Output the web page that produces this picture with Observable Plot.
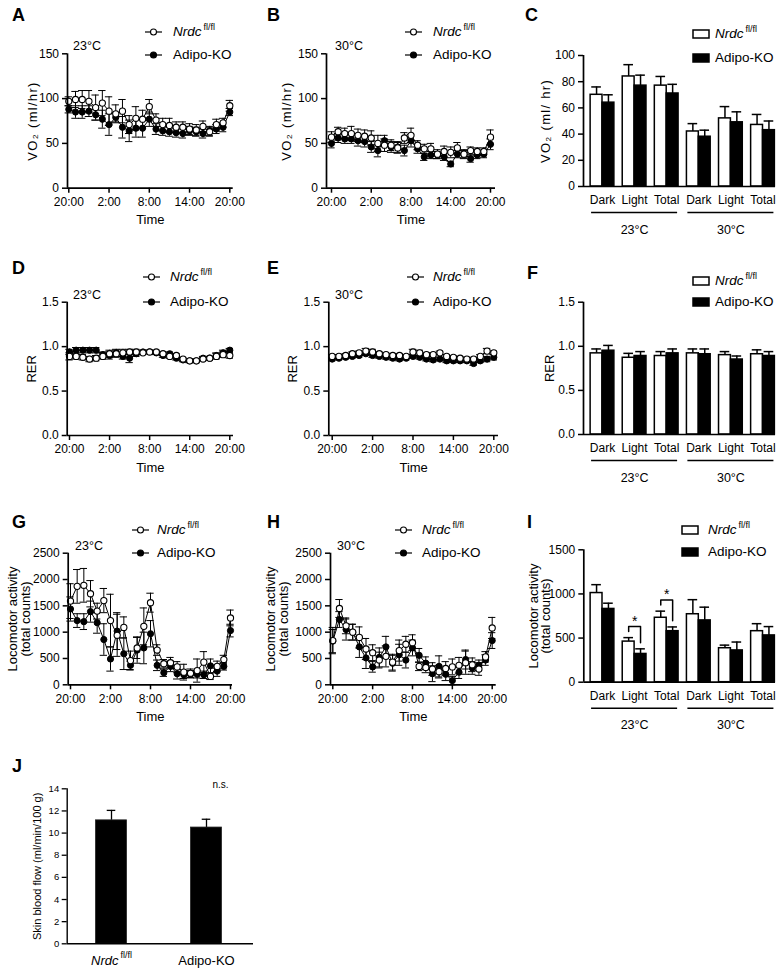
<!DOCTYPE html>
<html><head><meta charset="utf-8">
<script src="https://cdn.jsdelivr.net/npm/d3@7"></script>
<script src="https://cdn.jsdelivr.net/npm/@observablehq/plot@0.6"></script>
<style>
body{margin:0;background:#fff;}
#fig{position:relative;width:784px;height:969px;font-family:"Liberation Sans",Arial,Helvetica,sans-serif;color:#000;overflow:hidden;background:#fff;}
#fig > svg{position:absolute;}
.t{position:absolute;white-space:nowrap;}
.letter{font-weight:bold;font-size:18px;line-height:18px;}
.sup{font-size:9px;position:relative;top:-6px;margin-left:2px;font-style:normal;}
</style></head>
<body><div id="fig"></div>
<script>
// ---------------- data ----------------
const hours = [0,1,2,3,4,5,6,7,8,9,10,11,12,13,14,15,16,17,18,19,20,21,22,23,24];
const timeTickHours = [0,6,12,18,24];
const timeTickLabels = ["20:00","2:00","8:00","14:00","20:00"];
const groups = ["Nrdc fl/fl","Adipo-KO"];
const barCategories = ["Dark","Light","Total","Dark","Light","Total"];
const temperatures = ["23°C","30°C"];

// A: VO2 23°C
const vo2_23_flox = [97,99,99,97,90,95,86,83,86,71,78,77,91,76,71,70,68,68,66,65,69,63,71,73,92];
const vo2_23_flox_se = [5,9,10,12,14,14,16,10,13,10,13,10,8,7,7,8,6,6,6,6,6,5,6,5,6];
const vo2_23_ko = [88,85,85,86,82,77,71,79,68,64,67,67,77,66,64,63,62,61,64,63,61,64,66,68,85];
const vo2_23_ko_se = [4,7,7,6,6,10,12,5,12,12,10,10,8,6,5,5,5,5,5,5,5,5,5,5,4];
// B: VO2 30°C
const vo2_30_flox = [57,63,61,61,59,58,56,50,48,48,45,56,59,48,44,44,38,41,40,45,38,42,41,41,57];
const vo2_30_flox_se = [6,5,6,8,7,7,8,9,7,6,6,6,8,5,5,6,5,6,6,6,5,4,4,4,8];
const vo2_30_ko = [50,56,55,55,53,52,46,42,53,46,46,42,53,44,35,37,37,35,27,38,38,33,37,38,49];
const vo2_30_ko_se = [5,5,5,5,6,6,6,7,6,6,6,6,7,5,4,4,4,4,3,4,4,4,4,4,6];
// C: VO2 bars
const vo2Bar_flox = [70,84,77,42,52,47];
const vo2Bar_flox_se = [6,9,7,6,9,8];
const vo2Bar_ko = [64,77,71,38,49,43];
const vo2Bar_ko_se = [6,8,7,5,8,7];
// D: RER 23°C
const rer_23_flox = [.89,.89,.88,.86,.87,.89,.92,.92,.93,.94,.94,.93,.94,.94,.92,.89,.90,.86,.84,.84,.86,.87,.89,.91,.90];
const rer_23_flox_se = [.04,.03,.03,.03,.03,.03,.04,.04,.04,.03,.03,.02,.02,.02,.02,.02,.02,.02,.02,.02,.02,.02,.03,.03,.03];
const rer_23_ko = [.94,.96,.96,.96,.96,.91,.90,.93,.89,.87,.92,.94,.94,.93,.90,.92,.87,.85,.84,.84,.87,.87,.90,.93,.96];
const rer_23_ko_se = [.03,.03,.03,.03,.03,.03,.04,.04,.03,.05,.03,.02,.02,.02,.02,.02,.02,.02,.02,.02,.02,.02,.03,.03,.02];
// E: RER 30°C
const rer_30_flox = [.89,.89,.90,.92,.93,.95,.94,.92,.91,.90,.90,.89,.94,.93,.91,.91,.93,.89,.88,.87,.86,.86,.89,.95,.93];
const rer_30_flox_se = [.02,.02,.02,.02,.02,.03,.03,.02,.02,.02,.02,.02,.03,.03,.02,.02,.02,.02,.02,.02,.02,.02,.02,.03,.02];
const rer_30_ko = [.86,.87,.88,.89,.90,.92,.90,.89,.88,.87,.86,.87,.89,.88,.86,.85,.86,.84,.84,.84,.84,.81,.84,.86,.88];
const rer_30_ko_se = [.02,.02,.02,.02,.02,.02,.02,.02,.02,.02,.02,.02,.02,.02,.02,.02,.02,.02,.02,.02,.02,.02,.02,.03,.03];
// F: RER bars
const rerBar_flox = [0.92,0.87,0.89,0.92,0.90,0.91];
const rerBar_flox_se = [0.05,0.05,0.05,0.05,0.04,0.05];
const rerBar_ko = [0.95,0.89,0.92,0.91,0.85,0.89];
const rerBar_ko_se = [0.06,0.05,0.05,0.06,0.04,0.05];
// G: locomotor 23°C
const loco_23_flox = [1590,1870,1890,1730,1400,1600,1220,940,1090,460,700,1110,1560,660,400,420,340,240,220,270,430,160,350,480,1270];
const loco_23_flox_se = [330,320,320,250,150,230,500,400,200,180,200,350,180,100,80,100,100,150,80,220,200,60,100,80,150];
const loco_23_ko = [1440,1220,1200,1390,1180,860,490,1020,590,370,660,700,970,370,230,350,210,190,200,200,190,360,260,350,1030];
const loco_23_ko_se = [230,130,150,200,200,300,230,350,300,80,250,300,250,100,70,100,100,70,70,70,70,130,100,70,120];
// H: locomotor 30°C
const loco_30_flox = [840,1450,1120,1000,900,680,610,470,540,430,650,770,800,350,330,300,250,310,340,370,420,380,300,530,1080];
const loco_30_flox_se = [250,170,150,150,200,200,150,150,200,150,200,150,150,80,100,120,120,130,150,150,220,130,120,100,200];
const loco_30_ko = [830,1240,1050,1000,720,510,340,520,720,410,570,470,700,560,410,210,350,200,80,240,480,320,370,470,840];
const loco_30_ko_se = [220,150,200,150,200,200,100,180,200,150,200,150,150,130,120,150,200,120,80,120,180,120,100,100,150];
// I: locomotor bars
const locoBar_flox = [1010,460,730,770,385,578];
const locoBar_flox_se = [95,45,75,165,35,85];
const locoBar_ko = [830,320,578,700,360,530];
const locoBar_ko_se = [65,58,48,150,95,100];
const locoSignificant = [1,2]; // category indices marked "*"
// J: skin blood flow
const skinFlow = [11.15,10.5];
const skinFlow_se = [0.9,0.75];
const skinSignificance = "n.s.";

// ---------------- helpers ----------------
const fig = document.getElementById("fig");
const FONT = '"Liberation Sans", Arial, Helvetica, sans-serif';
const NS = "http://www.w3.org/2000/svg";
const baseStyle = (fs) => ({fontFamily: FONT, fontSize: fs + "px", background: "transparent", overflow: "visible", color: "black"});
const numFmt = d => `${d}`;

function margins(box, frame) {
  const [bx, by, bw, bh] = box; const [x0, x1, y0, y1] = frame;
  return {width: bw, height: bh, marginLeft: x0 - bx, marginRight: bx + bw - x1, marginTop: y0 - by, marginBottom: by + bh - y1};
}
function mount(svg, box) {
  svg.style.position = "absolute"; svg.style.left = box[0] + "px"; svg.style.top = box[1] + "px";
  svg.style.maxWidth = "none";
  svg.querySelectorAll("text").forEach(t => {
    if (t.textContent.startsWith("VO")) t.setAttribute("letter-spacing", "1.3");
  });
  fig.appendChild(svg);
}
function groupHTML(name) {
  if (name.endsWith(" fl/fl")) return '<i>' + name.replace(" fl/fl", "") + '</i><span class="sup">fl/fl</span>';
  return name;
}
function text(html, x, yc, size, extra) {
  const d = document.createElement("div");
  d.className = "t"; d.innerHTML = html;
  d.style.left = x + "px"; d.style.top = (yc - size * 0.75) + "px";
  d.style.fontSize = size + "px"; d.style.lineHeight = (size * 1.5) + "px";
  if (extra) Object.assign(d.style, extra);
  fig.appendChild(d); return d;
}
function letter(ch, x, yc) {
  const d = document.createElement("div"); d.className = "t letter"; d.textContent = ch;
  d.style.left = x + "px"; d.style.top = (yc - 9) + "px"; fig.appendChild(d);
}
function legendLines(symX, txtX, ys) {
  groups.forEach((g, i) => {
    const s = document.createElementNS(NS, "svg");
    s.setAttribute("width", 20); s.setAttribute("height", 10);
    s.style.position = "absolute"; s.style.left = symX + "px"; s.style.top = (ys[i] - 5) + "px";
    s.innerHTML = `<line x1="0" x2="17" y1="5" y2="5" stroke="black" stroke-width="1.2"/><circle cx="8.5" cy="5" r="3" fill="${i === 0 ? "white" : "black"}" stroke="black" stroke-width="1.1"/>`;
    fig.appendChild(s);
    text(groupHTML(g), txtX, ys[i], 13.5);
  });
}
function legendBoxes(symX, txtX, ys) {
  groups.forEach((g, i) => {
    const s = document.createElementNS(NS, "svg");
    s.setAttribute("width", 19); s.setAttribute("height", 12);
    s.style.position = "absolute"; s.style.left = symX + "px"; s.style.top = (ys[i] - 6) + "px";
    s.innerHTML = `<rect x="1" y="2" width="16" height="8" fill="${i === 0 ? "white" : "black"}" stroke="black" stroke-width="1.5"/>`;
    fig.appendChild(s);
    text(groupHTML(g), txtX, ys[i], 13.5);
  });
}

function axes(xDomain, yDomain, o) {
  return [
    Plot.ruleX([xDomain[0]], {strokeWidth: 1.7}),
    Plot.ruleY([yDomain[0]], {strokeWidth: 1.7}),
    Plot.axisY({ticks: o.yTicks, tickFormat: o.yFormat, tickSize: o.yTickSize ?? 5, tickPadding: 3.5, strokeWidth: 1.5, label: null}),
    Plot.axisX({ticks: o.xTicks, tickFormat: o.xFormat, tickSize: o.xTickSize ?? 5, tickPadding: o.xTickPadding ?? 4.3, strokeWidth: 1.5, label: null})
  ];
}
function yLabel(label, offset, size) {
  return Plot.text([label], {text: d => d, frameAnchor: "left", textAnchor: "middle", lineAnchor: "middle", rotate: -90, dx: -offset, fontSize: size ?? 13, lineHeight: 0.98});
}

function timePanel(p) {
  const m = margins(p.box, p.frame);
  const pxPerH = (p.h24 - p.h0) / 24;
  const xDomain = [(p.frame[0] - p.h0) / pxPerH, (p.frame[1] - p.h0) / pxPerH];
  const flox = hours.map((h, i) => ({h, v: p.flox[i], e: p.floxSe[i]}));
  const ko = hours.map((h, i) => ({h, v: p.ko[i], e: p.koSe[i]}));
  const cap = 0.55;
  const err = (data) => [
    Plot.ruleX(data, {x: "h", y1: d => d.v - d.e, y2: d => d.v + d.e, strokeWidth: 1}),
    Plot.ruleY(data, {y: d => d.v + d.e, x1: d => d.h - cap, x2: d => d.h + cap, strokeWidth: 1}),
    Plot.ruleY(data, {y: d => d.v - d.e, x1: d => d.h - cap, x2: d => d.h + cap, strokeWidth: 1})
  ];
  const svg = Plot.plot({
    ...m, style: baseStyle(12),
    x: {domain: xDomain, axis: null}, y: {domain: p.yDomain, axis: null},
    marks: [
      ...err(ko), ...err(flox),
      Plot.line(ko, {x: "h", y: "v", stroke: "black", strokeWidth: 1}),
      Plot.line(flox, {x: "h", y: "v", stroke: "black", strokeWidth: 1}),
      Plot.dot(ko, {x: "h", y: "v", r: 3.1, fill: "black", stroke: "black", strokeWidth: 1}),
      Plot.dot(flox, {x: "h", y: "v", r: 3.1, fill: "white", stroke: "black", strokeWidth: 1.1}),
      ...axes(xDomain, p.yDomain, {yTicks: p.yTicks, yFormat: p.yFormat, xTicks: timeTickHours, xFormat: d => timeTickLabels[timeTickHours.indexOf(d)]}),
      yLabel(p.ylabel, p.ylabelOffset),
      Plot.text(["Time"], {text: d => d, frameAnchor: "bottom", textAnchor: "middle", lineAnchor: "middle", dy: 32, fontSize: 13})
    ]
  });
  mount(svg, p.box);
}

function barPanel(p) {
  const m = margins(p.box, p.frame);
  const c0 = 602, step = 32.1; // page x of first category centre, spacing
  const xDomain = [(p.frame[0] - c0) / step, (p.frame[1] - c0) / step];
  const hw = 0.37;
  const flox = barCategories.map((c, i) => ({i, x1: i - hw, x2: i, xc: i - hw / 2, v: p.flox[i], e: p.floxSe[i]}));
  const ko = barCategories.map((c, i) => ({i, x1: i, x2: i + hw, xc: i + hw / 2, v: p.ko[i], e: p.koSe[i]}));
  const cap = 0.15;
  const err = (data) => [
    Plot.ruleX(data, {x: "xc", y1: "v", y2: d => d.v + d.e, strokeWidth: 1.5}),
    Plot.ruleY(data, {y: d => d.v + d.e, x1: d => d.xc - cap, x2: d => d.xc + cap, strokeWidth: 1.5})
  ];
  const tempGroups = temperatures.map((t, g) => ({label: t, a: g * 3 - 0.34, b: g * 3 + 2 + 0.34, c: g * 3 + 1}));
  const marks = [
    ...err(flox), ...err(ko),
    Plot.rectY(flox, {x1: "x1", x2: "x2", y1: () => 0, y2: "v", fill: "white", stroke: "black", strokeWidth: 1.5}),
    Plot.rectY(ko, {x1: "x1", x2: "x2", y1: () => 0, y2: "v", fill: "black", stroke: "black", strokeWidth: 1.5}),
    ...axes(xDomain, p.yDomain, {yTicks: p.yTicks, yFormat: p.yFormat, xTicks: [0,1,2,3,4,5], xFormat: d => barCategories[d], xTickSize: 0, xTickPadding: 9}),
    Plot.ruleY(tempGroups, {y: () => p.yDomain[0], x1: "a", x2: "b", dy: 26, strokeWidth: 1.5}),
    Plot.text(tempGroups, {x: "c", y: () => p.yDomain[0], text: "label", dy: 43, fontSize: 12.5}),
    yLabel(p.ylabel, p.ylabelOffset)
  ];
  if (p.sig) {
    const pts = [];
    const stars = [];
    p.sig.forEach(i => {
      const lt = flox[i].v + flox[i].e, rt = ko[i].v + ko[i].e;
      const top = Math.max(lt, rt) + p.sigGap * 1.8;
      pts.push({k: i, x: flox[i].xc, y: lt + p.sigGap}, {k: i, x: flox[i].xc, y: top},
               {k: i, x: ko[i].xc, y: top}, {k: i, x: ko[i].xc, y: rt + p.sigGap});
      stars.push({x: i, y: top});
    });
    marks.push(Plot.line(pts, {x: "x", y: "y", z: "k", stroke: "black", strokeWidth: 1.5}));
    marks.push(Plot.text(stars, {x: "x", y: "y", text: () => "*", lineAnchor: "bottom", dy: -1, fontSize: 14}));
  }
  const svg = Plot.plot({...m, style: baseStyle(12), x: {domain: xDomain, axis: null}, y: {domain: p.yDomain, axis: null}, marks});
  mount(svg, p.box);
}

// ---------------- panels ----------------
const vo2Label = "VO\u2082 (ml/hr)";
const locoLabel = "Locomotor activity\n(total counts)";
const fmt1 = d => d.toFixed(1);

timePanel({box: [0, 28, 255, 212], frame: [67, 232.7, 53.3, 187.7], h0: 68.3, h24: 229.3,
  yDomain: [0, 150], yTicks: [0, 50, 100, 150], yFormat: numFmt, flox: vo2_23_flox, floxSe: vo2_23_flox_se, ko: vo2_23_ko, koSe: vo2_23_ko_se,
  ylabel: vo2Label, ylabelOffset: 35});
timePanel({box: [255, 28, 260, 212], frame: [326, 495, 53.3, 187.7], h0: 331, h24: 490,
  yDomain: [0, 150], yTicks: [0, 50, 100, 150], yFormat: numFmt, flox: vo2_30_flox, floxSe: vo2_30_flox_se, ko: vo2_30_ko, koSe: vo2_30_ko_se,
  ylabel: vo2Label, ylabelOffset: 40});
barPanel({box: [515, 28, 269, 215], frame: [583, 775, 55, 186],
  yDomain: [0, 100], yTicks: [0, 20, 40, 60, 80, 100], yFormat: numFmt, flox: vo2Bar_flox, floxSe: vo2Bar_flox_se, ko: vo2Bar_ko, koSe: vo2Bar_ko_se,
  ylabel: "VO\u2082 (ml/ hr)", ylabelOffset: 38});

timePanel({box: [0, 285, 255, 200], frame: [66.7, 233, 301.7, 435], h0: 69, h24: 229.3,
  yDomain: [0, 1.5], yTicks: [0, 0.5, 1, 1.5], yFormat: fmt1, flox: rer_23_flox, floxSe: rer_23_flox_se, ko: rer_23_ko, koSe: rer_23_ko_se,
  ylabel: "RER", ylabelOffset: 35});
timePanel({box: [255, 285, 260, 200], frame: [328.3, 498, 301.7, 435], h0: 331.7, h24: 493.3,
  yDomain: [0, 1.5], yTicks: [0, 0.5, 1, 1.5], yFormat: fmt1, flox: rer_30_flox, floxSe: rer_30_flox_se, ko: rer_30_ko, koSe: rer_30_ko_se,
  ylabel: "RER", ylabelOffset: 36});
barPanel({box: [515, 285, 269, 200], frame: [583, 775, 301.7, 434],
  yDomain: [0, 1.5], yTicks: [0, 0.5, 1, 1.5], yFormat: fmt1, flox: rerBar_flox, floxSe: rerBar_flox_se, ko: rerBar_ko, koSe: rerBar_ko_se,
  ylabel: "RER", ylabelOffset: 34});

timePanel({box: [0, 540, 255, 195], frame: [67.7, 232, 552.7, 684.3], h0: 70, h24: 230,
  yDomain: [0, 2500], yTicks: [0, 500, 1000, 1500, 2000, 2500], yFormat: numFmt, flox: loco_23_flox, floxSe: loco_23_flox_se, ko: loco_23_ko, koSe: loco_23_ko_se,
  ylabel: locoLabel, ylabelOffset: 49});
timePanel({box: [255, 540, 260, 195], frame: [330, 495.7, 552.7, 684.3], h0: 332.3, h24: 491.7,
  yDomain: [0, 2500], yTicks: [0, 500, 1000, 1500, 2000, 2500], yFormat: numFmt, flox: loco_30_flox, floxSe: loco_30_flox_se, ko: loco_30_ko, koSe: loco_30_ko_se,
  ylabel: locoLabel, ylabelOffset: 53});
barPanel({box: [515, 540, 269, 195], frame: [583.3, 775, 549.3, 681.7],
  yDomain: [0, 1500], yTicks: [0, 500, 1000, 1500], yFormat: numFmt, flox: locoBar_flox, floxSe: locoBar_flox_se, ko: locoBar_ko, koSe: locoBar_ko_se,
  ylabel: locoLabel, ylabelOffset: 44, sig: locoSignificant, sigGap: 70});

// J
(function () {
  const box = [0, 770, 460, 199], frame = [66.7, 253, 788.3, 943.3];
  const m = margins(box, frame);
  const c0 = 111, step = 95;
  const xDomain = [(frame[0] - c0) / step, (frame[1] - c0) / step];
  const hw = 0.163, cap = 0.045;
  const data = groups.map((g, i) => ({i, g, v: skinFlow[i], e: skinFlow_se[i]}));
  const yTicks = [0, 2, 4, 6, 8, 10, 12, 14];
  const svg = Plot.plot({
    ...m, style: baseStyle(9.5),
    x: {domain: xDomain, axis: null}, y: {domain: [0, 14], axis: null},
    marks: [
      Plot.ruleX(data, {x: "i", y1: "v", y2: d => d.v + d.e, strokeWidth: 1.3}),
      Plot.ruleY(data, {y: d => d.v + d.e, x1: d => d.i - cap, x2: d => d.i + cap, strokeWidth: 1.3}),
      Plot.rectY(data, {x1: d => d.i - hw, x2: d => d.i + hw, y1: () => 0, y2: "v", fill: "black", stroke: "#222", strokeWidth: 0.8}),
      Plot.ruleX([xDomain[0]], {strokeWidth: 1.4}),
      Plot.ruleY([0], {strokeWidth: 1.4}),
      Plot.axisY({ticks: yTicks, tickFormat: numFmt, tickSize: 5, tickPadding: 3, strokeWidth: 1.3, label: null}),
      Plot.text(data, {x: "i", y: () => 0, text: "g", dy: 17, fontSize: 13}),
      Plot.text([skinSignificance], {text: d => d, x: () => 1, frameAnchor: "top", textAnchor: "middle", dx: 14, dy: -8, fontSize: 10}),
      yLabel("Skin blood flow (ml/min/100 g)", 30, 11)
    ]
  });
  svg.querySelectorAll("text").forEach(t => {
    if (t.textContent === "Nrdc fl/fl") {
      t.textContent = "";
      const a = document.createElementNS(NS, "tspan"); a.setAttribute("font-style", "italic"); a.textContent = "Nrdc"; t.appendChild(a);
      const b = document.createElementNS(NS, "tspan"); b.setAttribute("font-size", "9"); b.setAttribute("dy", "-7"); b.setAttribute("dx", "2"); b.textContent = "fl/fl"; t.appendChild(b);
    }
  });
  mount(svg, box);
})();

// ---------------- overlays: letters, temperatures, legends ----------------
letter("A", 12, 15); letter("B", 267, 15); letter("C", 525, 15);
letter("D", 12, 268); letter("E", 267, 268); letter("F", 527, 273);
letter("G", 12, 521.5); letter("H", 267, 521.5); letter("I", 527, 521.5);
letter("J", 12, 766);

text(temperatures[0], 73, 46.7, 12.5); text(temperatures[1], 335, 46.7, 12.5);
text(temperatures[0], 73, 295, 12.5); text(temperatures[1], 335, 295, 12.5);
text(temperatures[0], 75, 546.7, 12.5); text(temperatures[1], 337, 546.7, 12.5);

legendLines(145, 173, [32, 55]);
legendLines(405, 433, [32, 55]);
legendLines(143, 170, [277, 302]);
legendLines(407, 433, [277, 302]);
legendLines(132, 157, [530, 553]);
legendLines(395, 422, [530, 553]);
legendBoxes(692, 715, [34, 58]);
legendBoxes(692, 715, [281, 302]);
legendBoxes(681, 708, [530, 552]);
</script>
</body></html>
